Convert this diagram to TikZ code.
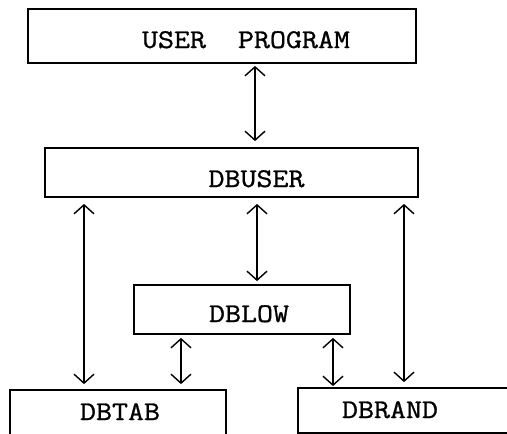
\documentclass[tikz,border=0pt]{standalone}
\usepackage{fontspec}
\setmonofont[FakeStretch=1.15,FakeBold=1]{Latin Modern Mono}
\usetikzlibrary{arrows.meta}
\begin{document}
\begin{tikzpicture}[x=1pt,y=-1pt,
  box/.style={draw, line width=1.8pt, rectangle, inner sep=0pt},
  lbl/.style={anchor=base, font=\ttfamily\fontsize{27}{30}\selectfont, inner sep=0pt},
  tip/.tip={Straight Barb[length=9pt,width=20pt]},
  arr/.style={line width=1.4pt, tip-tip}]
\useasboundingbox (0,0) rectangle (507,434);
\clip (0,0) rectangle (507,434);
\node[box, minimum width=388pt, minimum height=54pt] (up) at (222,36) {};
\node[box, minimum width=373pt, minimum height=49pt] (dbuser) at (231.5,172.5) {};
\node[box, minimum width=216pt, minimum height=49pt] (dblow) at (242,309.5) {};
\node[box, minimum width=216pt, minimum height=60pt] (dbtab) at (118,420) {};
\node[box, minimum width=242pt, minimum height=45pt] (dbrand) at (419,410.5) {};
\node[lbl] (uptxt) at (246,48) {USER\ \ PROGRAM};
\node[lbl] (dbusertxt) at (256.5,187) {DBUSER};
\node[lbl] (dblowtxt) at (249,322) {DBLOW};
\node[lbl] (dbtabtxt) at (120,420) {DBTAB};
\node[lbl] (dbrandtxt) at (390,418) {DBRAND};
\draw[arr, shorten <=2pt, shorten >=6pt] (255,0 |- up.south) -- (255,0 |- dbuser.north);
\draw[arr, shorten <=6pt, shorten >=5pt] (84,0 |- dbuser.south) -- (84,0 |- dbtab.north);
\draw[arr, shorten <=6pt, shorten >=3pt] (257,0 |- dbuser.south) -- (257,0 |- dblow.north);
\draw[arr, shorten <=6pt, shorten >=5pt] (404,0 |- dbuser.south) -- (404,0 |- dbrand.north);
\draw[arr, shorten <=3pt, shorten >=5pt] (181,0 |- dblow.south) -- (181,0 |- dbtab.north);
\draw[arr, shorten <=3pt, shorten >=1pt] (333,0 |- dblow.south) -- (333,0 |- dbrand.north);
\end{tikzpicture}
\end{document}
